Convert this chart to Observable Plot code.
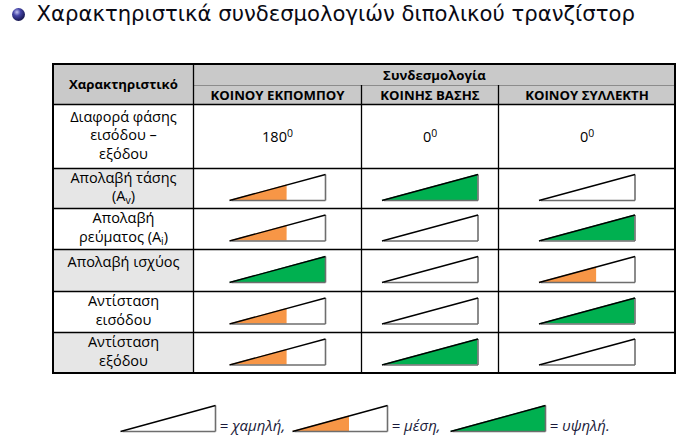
<!DOCTYPE html>
<html><head><meta charset="utf-8">
<script src="https://cdn.jsdelivr.net/npm/d3@7"></script>
<script src="https://cdn.jsdelivr.net/npm/@observablehq/plot@0.6"></script>
<style>html,body{margin:0;padding:0;background:#fff;} #chart svg{display:block;}</style>
</head><body><div id="chart"></div>
<script>
// ---------- data ----------
const title = "Χαρακτηριστικά συνδεσμολογιών διπολικού τρανζίστορ";
const headerCharacteristic = "Χαρακτηριστικό";
const headerGroup = "Συνδεσμολογία";
const configurations = ["ΚΟΙΝΟΥ ΕΚΠΟΜΠΟΥ", "ΚΟΙΝΗΣ ΒΑΣΗΣ", "ΚΟΙΝΟΥ ΣΥΛΛΕΚΤΗ"];
const characteristics = [
  ["Διαφορά φάσης", "εισόδου –", "εξόδου"],
  ["Απολαβή τάσης", "(A_v)"],
  ["Απολαβή", "ρεύματος (A_i)"],
  ["Απολαβή ισχύος"],
  ["Αντίσταση", "εισόδου"],
  ["Αντίσταση", "εξόδου"]
];
const phaseShiftDeg = [180, 0, 0];
const voltageGain = ["μέση", "υψηλή", "χαμηλή"];
const currentGain = ["μέση", "χαμηλή", "υψηλή"];
const powerGain = ["υψηλή", "χαμηλή", "μέση"];
const inputResistance = ["μέση", "χαμηλή", "υψηλή"];
const outputResistance = ["μέση", "υψηλή", "χαμηλή"];
const levels = ["χαμηλή", "μέση", "υψηλή"];
const legendLabels = ["= χαμηλή,", "= μέση,", "= υψηλή."];

// ---------- layout & style ----------
const W = 680, H = 438;
const T = {x0: 53, y0: 64, colW: [140, 168, 137, 177], headH: [21, 19], rowH: [64, 40, 41, 42, 41, 41]};
const tri = {w: 96, h: 26, dy: -1};
const levelFraction = {"χαμηλή": 0, "μέση": 0.6, "υψηλή": 1};
const levelColor = {"χαμηλή": "#ffffff", "μέση": "#f79646", "υψηλή": "#00b050"};
const legendLayout = {x: [120, 292, 450], cy: 418, w: 95, textGap: 4};
const headerGrey = "#c9c9c9", rowGrey = "#e6e6e6";
const FONT = "Open Sans";

const colE = [T.x0]; T.colW.forEach(w => colE.push(colE[colE.length - 1] + w));
const bodyTop = T.y0 + T.headH[0] + T.headH[1];
const rowE = [bodyTop]; T.rowH.forEach(h => rowE.push(rowE[rowE.length - 1] + h));
const right = colE[4], bottom = rowE[6];

// backgrounds
const bg = [
  {x1: colE[0], x2: colE[1], y1: T.y0, y2: bodyTop, fill: headerGrey},
  {x1: colE[1], x2: right, y1: T.y0, y2: T.y0 + T.headH[0], fill: headerGrey},
  ...configurations.map((c, i) => ({x1: colE[i + 1], x2: colE[i + 2], y1: T.y0 + T.headH[0], y2: bodyTop, fill: headerGrey})),
  ...characteristics.map((c, r) => ({x1: colE[0], x2: colE[1], y1: rowE[r], y2: rowE[r + 1], fill: r % 2 ? rowGrey : "#ffffff"}))
];

// grid lines
const hLines = rowE.slice(0, 6).map(y => ({x1: T.x0, x2: right, y}));
const vLines = [
  {x: colE[1], y1: T.y0, y2: bottom},
  {x: colE[2], y1: T.y0 + T.headH[0], y2: bottom},
  {x: colE[3], y1: T.y0 + T.headH[0], y2: bottom}
];
const thinLine = [{x1: colE[1], x2: right, y: T.y0 + T.headH[0]}];

// texts
const cx = i => (colE[i] + colE[i + 1]) / 2;
const headTexts = [
  {x: cx(0), y: (T.y0 + bodyTop) / 2, text: headerCharacteristic},
  {x: (colE[1] + right) / 2, y: T.y0 + T.headH[0] / 2 + 0.5, text: headerGroup},
  ...configurations.map((c, i) => ({x: cx(i + 1), y: T.y0 + T.headH[0] + T.headH[1] / 2 + 0.5, text: c}))
];
const LH = 18.5;
const labelTexts = [];
characteristics.forEach((lines, r) => {
  const h = T.rowH[r], n = lines.length;
  const first = n * LH >= h - 10 ? (rowE[r] + h / 2) - (n - 1) * LH / 2 - 1 : rowE[r] + 12.5;
  lines.forEach((t, k) => labelTexts.push({x: cx(0), y: first + k * LH, text: t}));
});
const phaseTexts = phaseShiftDeg.map((d, i) => ({x: cx(i + 1), y: rowE[0] + T.rowH[0] / 2 + 1, text: `${d}^0`}));

// triangles
const levelRows = [voltageGain, currentGain, powerGain, inputResistance, outputResistance];
const tris = [];
levelRows.forEach((arr, k) => {
  const r = k + 1;
  arr.forEach((lvl, i) => {
    const c = cx(i + 1), m = (rowE[r] + rowE[r + 1]) / 2 + tri.dy;
    tris.push({id: `t${r}-${i}`, L: c - tri.w / 2, R: c + tri.w / 2, T: m - tri.h / 2, B: m + tri.h / 2, level: lvl});
  });
});
levels.forEach((lvl, i) => {
  const L = legendLayout.x[i];
  tris.push({id: `leg${i}`, L, R: L + legendLayout.w, T: legendLayout.cy - tri.h / 2, B: legendLayout.cy + tri.h / 2, level: lvl, legend: legendLabels[i]});
});
const areaPts = [];
tris.forEach(t => {
  const f = levelFraction[t.level];
  if (f > 0) {
    areaPts.push({id: t.id, x: t.L, y1: t.B, y2: t.B, fill: levelColor[t.level]});
    areaPts.push({id: t.id, x: t.L + f * (t.R - t.L), y1: t.B, y2: t.B - f * (t.B - t.T), fill: levelColor[t.level]});
  }
});
const hyp = tris.map(t => ({x1: t.L, y1: t.B, x2: t.R, y2: t.T}));
const sides = tris.flatMap(t => [{x1: t.L + 2, y1: t.B, x2: t.R, y2: t.B}, {x1: t.R, y1: t.B, x2: t.R, y2: t.T}]);
const legendTexts = tris.filter(t => t.legend).map(t => ({x: t.R + legendLayout.textGap, y: t.B - 5, text: t.legend}));

const titleData = [{x: 36, y: 13.5, text: title}];
const bullet = [{x: 18, y: 14}];

const plot = Plot.plot({
  width: W, height: H, margin: 0,
  x: {domain: [0, W], range: [0, W], axis: null},
  y: {domain: [0, H], range: [0, H], axis: null},
  marks: [
    Plot.rect(bg, {x1: "x1", x2: "x2", y1: "y1", y2: "y2", fill: d => d.fill}),
    Plot.ruleY(thinLine, {x1: "x1", x2: "x2", y: "y", stroke: "#8c8c8c", strokeWidth: 1}),
    Plot.ruleY(hLines, {x1: "x1", x2: "x2", y: "y", stroke: "#000", strokeWidth: 1.3}),
    Plot.ruleX(vLines, {x: "x", y1: "y1", y2: "y2", stroke: "#000", strokeWidth: 1.3}),
    Plot.rect([{x1: T.x0, x2: right, y1: T.y0, y2: bottom}], {x1: "x1", x2: "x2", y1: "y1", y2: "y2", fill: "none", stroke: "#000", strokeWidth: 2}),
    Plot.areaY(areaPts, {x: "x", y1: "y1", y2: "y2", z: "id", fill: d => d.fill, curve: "linear"}),
    Plot.link(sides, {x1: "x1", y1: "y1", x2: "x2", y2: "y2", stroke: "#6e6e6e", strokeWidth: 1.6}),
    Plot.link(hyp, {x1: "x1", y1: "y1", x2: "x2", y2: "y2", stroke: "#000", strokeWidth: 1.4}),
    Plot.text(headTexts, {x: "x", y: "y", text: "text", fontFamily: FONT, fontWeight: "bold", fontSize: 13.2, fill: "#000"}),
    Plot.text(labelTexts, {x: "x", y: "y", text: "text", fontFamily: FONT, fontSize: 14.5, fill: "#000"}),
    Plot.text(phaseTexts, {x: "x", y: "y", text: "text", fontFamily: FONT, fontSize: 14.5, fill: "#000"}),
    Plot.text(legendTexts, {x: "x", y: "y", text: "text", textAnchor: "start", fontFamily: FONT, fontStyle: "italic", fontSize: 15, fill: "#1a1a3a"}),
    Plot.dot(bullet, {x: "x", y: "y", r: 6.5, fill: "#3c3c9c"}),
    Plot.text(titleData, {x: "x", y: "y", text: "text", textAnchor: "start", fontFamily: "DejaVu Sans", fontSize: 21.2, fill: "#0a0a14"})
  ]
});

// gradient for bullet
const svg = d3.select(plot);
const defs = svg.insert("defs", ":first-child");
const g = defs.append("radialGradient").attr("id", "bulletGrad").attr("cx", "38%").attr("cy", "32%").attr("r", "70%");
g.append("stop").attr("offset", "0%").attr("stop-color", "#c4c4f2");
g.append("stop").attr("offset", "40%").attr("stop-color", "#4545a8");
g.append("stop").attr("offset", "100%").attr("stop-color", "#14144a");
svg.selectAll('g[aria-label="dot"] circle').attr("fill", "url(#bulletGrad)");

// sub/superscripts
svg.selectAll("text").each(function () {
  const s = this.textContent;
  if (!/[_^]/.test(s)) return;
  const el = d3.select(this);
  el.text(null);
  const parts = s.split(/([_^].)/);
  let shift = 0;
  parts.forEach(p => {
    if (!p) return;
    if (p[0] === "_" || p[0] === "^") {
      const d = p[0] === "_" ? 3 : -5;
      el.append("tspan").attr("dy", d - shift).attr("font-size", "0.72em").text(p[1]);
      shift = d;
    } else {
      const ts = el.append("tspan").text(p);
      if (shift) { ts.attr("dy", -shift); shift = 0; }
    }
  });
});

document.getElementById("chart").append(plot);
</script>
</body></html>
